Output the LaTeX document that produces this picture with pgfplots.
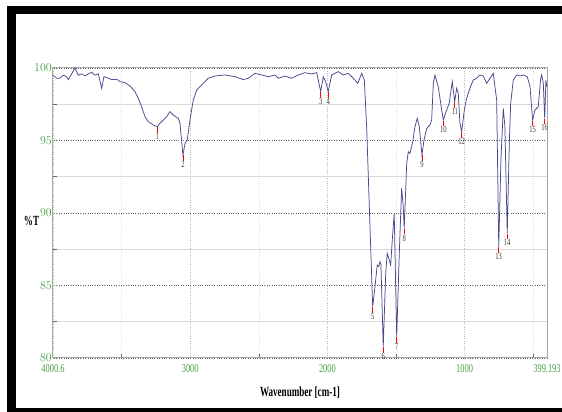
\documentclass[border=0pt]{standalone}
\usepackage{pgfplots}
\pgfplotsset{compat=1.18}
\usepackage{pgfplotstable}
\usepackage{fontspec}
\setmainfont{Liberation Serif}
\newfontfamily\condfont[FakeStretch=0.7]{Liberation Serif}
\newfontfamily\condbold[FakeStretch=0.65]{Liberation Serif Bold}
\definecolor{tickgreen}{RGB}{70,160,70}
\definecolor{specline}{RGB}{72,72,140}
\pgfdeclareplotmark{peakdn}{%
  \pgfpathmoveto{\pgfqpoint{0pt}{-0.5pt}}%
  \pgfpathlineto{\pgfqpoint{0pt}{-6pt}}%
  \pgfusepathqstroke}
\pgfplotstableread{
x y
4000 99.5
3974 99.3
3950 99.3
3926 99.5
3901 99.4
3889 99.2
3864 99.6
3840 100.0
3816 99.5
3791 99.6
3767 99.45
3743 99.6
3719 99.7
3694 99.5
3670 99.6
3646 98.6
3629 99.4
3598 99.3
3573 99.2
3536 99.22
3512 99.06
3476 98.99
3439 98.76
3403 98.37
3379 97.91
3354 97.33
3330 96.64
3306 96.3
3269 96.07
3240 95.95
3221 96.19
3197 96.41
3172 96.64
3148 96.99
3124 96.76
3087 96.53
3075 96.19
3053 94.0
3038 94.81
3022 95.03
3002 96.41
2978 97.79
2953 98.48
2929 98.71
2893 99.06
2869 99.29
2820 99.45
2747 99.52
2674 99.4
2613 99.2
2577 99.29
2528 99.63
2479 99.52
2431 99.4
2382 99.52
2358 99.29
2309 99.45
2261 99.29
2212 99.52
2164 99.68
2115 99.59
2078 99.68
2049 98.37
2030 99.4
2013 99.06
1994 98.37
1969 99.52
1921 99.75
1884 99.52
1848 99.63
1811 99.29
1779 98.94
1750 99.63
1731 99.17
1714 95.95
1670 83.54
1653 84.92
1637 86.41
1626 86.3
1617 86.64
1610 86.5
1593 80.78
1575 85.84
1564 87.22
1549 86.76
1539 86.41
1527 88.14
1513 89.98
1495 81.47
1476 87.22
1459 91.7
1447 90.43
1440 88.94
1422 93.43
1410 94.23
1398 94.12
1378 94.92
1362 95.95
1345 96.53
1330 95.95
1311 94.0
1296 95.03
1276 95.84
1252 96.07
1240 96.41
1228 98.94
1216 99.52
1192 98.71
1167 97.1
1155 96.41
1131 97.1
1112 97.57
1090 99.06
1072 97.68
1058 98.6
1046 98.26
1034 96.19
1021 95.61
1002 97.1
985 97.91
961 98.6
937 99.17
912 99.29
888 99.52
864 99.45
839 98.94
815 99.29
791 99.63
766 97.79
751 87.68
735 93.66
718 97.22
706 95.95
689 88.6
674 94.81
664 97.57
645 99.17
620 99.52
596 99.45
572 99.52
543 99.4
523 98.71
504 96.41
487 97.1
463 97.33
445 99.29
438 99.52
426 98.94
416 96.53
407 99.17
401 98.71
}\spectrum
\pgfplotstableread{
x y lab
3240 95.95 1
3053 94.0 2
2049 98.37 3
1994 98.37 4
1670 83.54 5
1593 80.78 6
1495 81.47 7
1440 88.94 8
1311 94.0 9
1155 96.41 10
1072 97.68 11
1021 95.61 12
751 87.68 13
689 88.6 14
504 96.41 15
416 96.53 16
}\peaks
\begin{document}
\begin{tikzpicture}
\fill[white] (0,0) rectangle (562bp,412bp);
\fill[black] (7bp,398bp) rectangle (562bp,406bp);
\fill[black] (7bp,0bp) rectangle (16bp,406bp);
\fill[black] (7bp,0bp) rectangle (562bp,4bp);
\begin{axis}[
  at={(53bp,54bp)}, anchor=south west,
  width=494bp, height=290bp, scale only axis,
  x dir=reverse,
  xmin=399.193, xmax=4000.6, ymin=80, ymax=100,
  xtick={4000.6,3000,2000,1000,399.193},
  xticklabels={4000.6,3000,2000,1000,399.193},
  minor xtick={3500,2500,1500,500},
  ytick={80,85,90,95,100},
  minor ytick={82.5,87.5,92.5,97.5},
  tick pos=lower,
  major tick length=0pt,
  minor tick length=4bp,
  tick style={gray!80!black, line width=0.6bp},
  xmajorgrids, ymajorgrids, xminorgrids, yminorgrids,
  major y grid style={gray!75!black, dotted, line width=0.9bp},
  major x grid style={gray!55, dotted, line width=0.8bp},
  minor y grid style={gray!30, line width=0.5bp},
  minor x grid style={gray!25, dotted, line width=0.6bp},
  axis line style={gray!70, line width=1bp},
  tick label style={tickgreen, font=\condfont\fontsize{12}{12}\selectfont},
  yticklabel style={inner sep=1bp},
  xticklabel style={yshift=-6bp, inner sep=0.5bp},
  xlabel={Wavenumber [cm-1]},
  ylabel={\%T},
  every axis x label/.style={at={(axis description cs:0.5,0)}, anchor=center, yshift=-35bp, font=\condbold\fontsize{14}{14}\selectfont},
  every axis y label/.style={at={(axis description cs:0,0.472)}, anchor=center, xshift=-21.5bp, font=\condbold\fontsize{14}{14}\selectfont},
  clip=false,
]
\addplot[specline, line width=0.75bp, mark=none] table[x=x,y=y] {\spectrum};
\addplot[red, only marks, mark=peakdn, mark options={line width=0.7bp},
  nodes near coords, point meta=explicit symbolic,
  every node near coord/.style={text=black!75, anchor=north, yshift=-5.5bp, inner sep=0.5bp, font=\condfont\fontsize{9.5}{9.5}\selectfont}]
  table[x=x,y=y,meta=lab] {\peaks};
\end{axis}
\pgfresetboundingbox
\useasboundingbox (0,0) rectangle (562bp,412bp);
\end{tikzpicture}
\end{document}
